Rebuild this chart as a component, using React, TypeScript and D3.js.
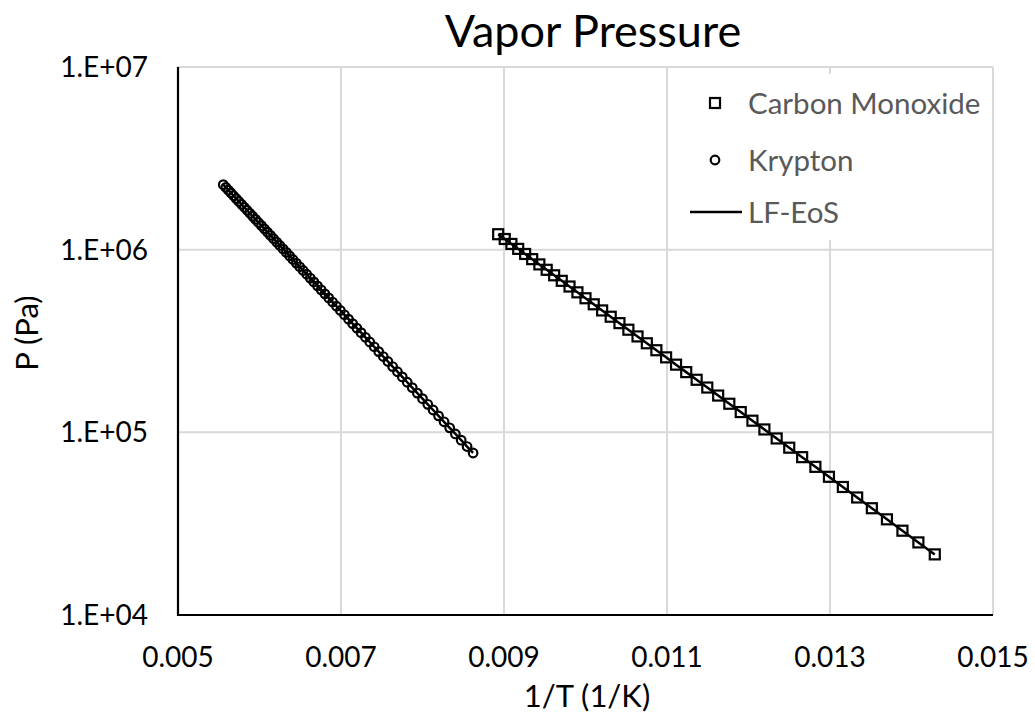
import React from "react";
import * as d3 from "d3";

const xTicks = [0.005, 0.007, 0.009, 0.011, 0.013, 0.015];
const yTicks = [1e4, 1e5, 1e6, 1e7];
const yTickLabels = ["1.E+04", "1.E+05", "1.E+06", "1.E+07"];

// Carbon monoxide: temperature (K) and vapor pressure (Pa)
const coT = [70, 71, 72, 73, 74, 75, 76, 77, 78, 79, 80, 81, 82, 83, 84, 85, 86, 87, 88, 89, 90,
  91, 92, 93, 94, 95, 96, 97, 98, 99, 100, 101, 102, 103, 104, 105, 106, 107, 108, 109, 110, 111, 112];
const coP = [21470, 24970, 28940, 33400, 38410, 43990, 50210, 57090, 64730, 73140, 82410, 92580,
  103700, 115800, 129100, 143400, 159000, 175900, 194000, 213600, 234700, 257300, 281500, 307300,
  335000, 364600, 396000, 429400, 464800, 502200, 542000, 584000, 628400, 675100, 723900, 775800,
  830400, 887400, 947100, 1010000, 1075000, 1144000, 1215000];

// Krypton: temperature (K) and vapor pressure (Pa)
const krT = [116, 117, 118, 119, 120, 121, 122, 123, 124, 125, 126, 127, 128, 129, 130, 131, 132, 133,
  134, 135, 136, 137, 138, 139, 140, 141, 142, 143, 144, 145, 146, 147, 148, 149, 150, 151, 152, 153,
  154, 155, 156, 157, 158, 159, 160, 161, 162, 163, 164, 165, 166, 167, 168, 169, 170, 171, 172, 173,
  174, 175, 176, 177, 178, 179, 180];
const krP = [77090, 83600, 90580, 97970, 105850, 114220, 123080, 132490, 142370, 152890, 163980,
  175710, 188060, 201060, 214680, 229090, 244200, 260020, 276620, 293970, 312210, 331300, 351290,
  372090, 393750, 416400, 440040, 464520, 490000, 516650, 544240, 572930, 602880, 633770, 665770,
  699020, 733500, 769130, 805900, 844060, 883410, 924180, 966270, 1009700, 1054400, 1100600,
  1148200, 1197100, 1247400, 1299600, 1353000, 1407600, 1464100, 1522200, 1581800, 1643000,
  1706100, 1770600, 1836500, 1904000, 1973600, 2044700, 2117500, 2191900, 2268400];

const legendLabels = ["Carbon Monoxide", "Krypton", "LF-EoS"];

const W = 1035;
const H = 717;
const FONT = "Lato, 'Open Sans', sans-serif";

export default function App() {
  const x = d3.scaleLinear().domain([0.005, 0.015]).range([178, 993]);
  const y = d3.scaleLog().domain([1e4, 1e7]).range([615, 67]);

  const co = coT.map((t, i) => ({ x: 1 / t, y: coP[i] }));
  const kr = krT.map((t, i) => ({ x: 1 / t, y: krP[i] }));
  const line = d3
    .line<{ x: number; y: number }>()
    .x((d) => x(d.x))
    .y((d) => y(d.y));

  const [x0, x1] = x.range();
  const [yb, yt] = y.range();
  const grid = "#d9d9d9";
  const sq = 10;

  return (
    <svg
      width={W}
      height={H}
      style={{ position: "absolute", left: 0, top: 0, background: "#fff" }}
      fontFamily={FONT}
    >
      <rect x={0} y={0} width={W} height={H} fill="#fff" />
      {/* gridlines */}
      {xTicks.slice(1).map((t) => (
        <line key={"gx" + t} x1={x(t)} x2={x(t)} y1={yb} y2={yt} stroke={grid} strokeWidth={2} />
      ))}
      {yTicks.slice(1).map((t) => (
        <line key={"gy" + t} x1={x0} x2={x1} y1={y(t)} y2={y(t)} stroke={grid} strokeWidth={2} />
      ))}
      {/* axes */}
      <line x1={x0} x2={x0} y1={yt} y2={yb + 1} stroke="#000" strokeWidth={2.2} />
      <line x1={x0} x2={x1} y1={yb} y2={yb} stroke="#000" strokeWidth={2.2} />

      {/* tick labels */}
      {xTicks.map((t) => (
        <text key={"tx" + t} x={x(t)} y={667} textAnchor="middle" fontSize={28} fill="#000">
          {d3.format(".3f")(t)}
        </text>
      ))}
      {yTicks.map((t, i) => (
        <text key={"ty" + t} x={148} y={y(t)} dy="0.36em" textAnchor="end" fontSize={28} fill="#000">
          {yTickLabels[i]}
        </text>
      ))}

      {/* series markers */}
      {kr.map((d, i) => (
        <circle key={"k" + i} cx={x(d.x)} cy={y(d.y)} r={4.3} fill="none" stroke="#000" strokeWidth={2.2} />
      ))}
      {co.map((d, i) => (
        <rect
          key={"c" + i}
          x={x(d.x) - sq / 2}
          y={y(d.y) - sq / 2}
          width={sq}
          height={sq}
          fill="none"
          stroke="#000"
          strokeWidth={2.2}
        />
      ))}
      {/* LF-EoS lines */}
      <path d={line(kr) || ""} fill="none" stroke="#000" strokeWidth={2.5} />
      <path d={line(co) || ""} fill="none" stroke="#000" strokeWidth={2.5} />

      {/* legend */}
      <rect x={686} y={74} width={304} height={166} fill="#fff" />
      <rect x={715 - 5} y={103 - 5} width={10} height={10} fill="none" stroke="#000" strokeWidth={2.2} />
      <circle cx={715} cy={160} r={4.3} fill="none" stroke="#000" strokeWidth={2.2} />
      <line x1={690} x2={742} y1={212} y2={212} stroke="#000" strokeWidth={2.5} />
      {legendLabels.map((l, i) => (
        <text key={l} x={748} y={[103, 160, 212][i]} dy="0.36em" fontSize={29.5} fill="#595959">
          {l}
        </text>
      ))}

      {/* titles */}
      <text x={593} y={47} textAnchor="middle" fontSize={45} fill="#000">
        Vapor Pressure
      </text>
      <text x={587} y={707} textAnchor="middle" fontSize={31} fill="#000">
        1/T (1/K)
      </text>
      <text
        transform={`translate(38,333) rotate(-90)`}
        textAnchor="middle"
        fontSize={31}
        fill="#000"
      >
        P (Pa)
      </text>
    </svg>
  );
}
